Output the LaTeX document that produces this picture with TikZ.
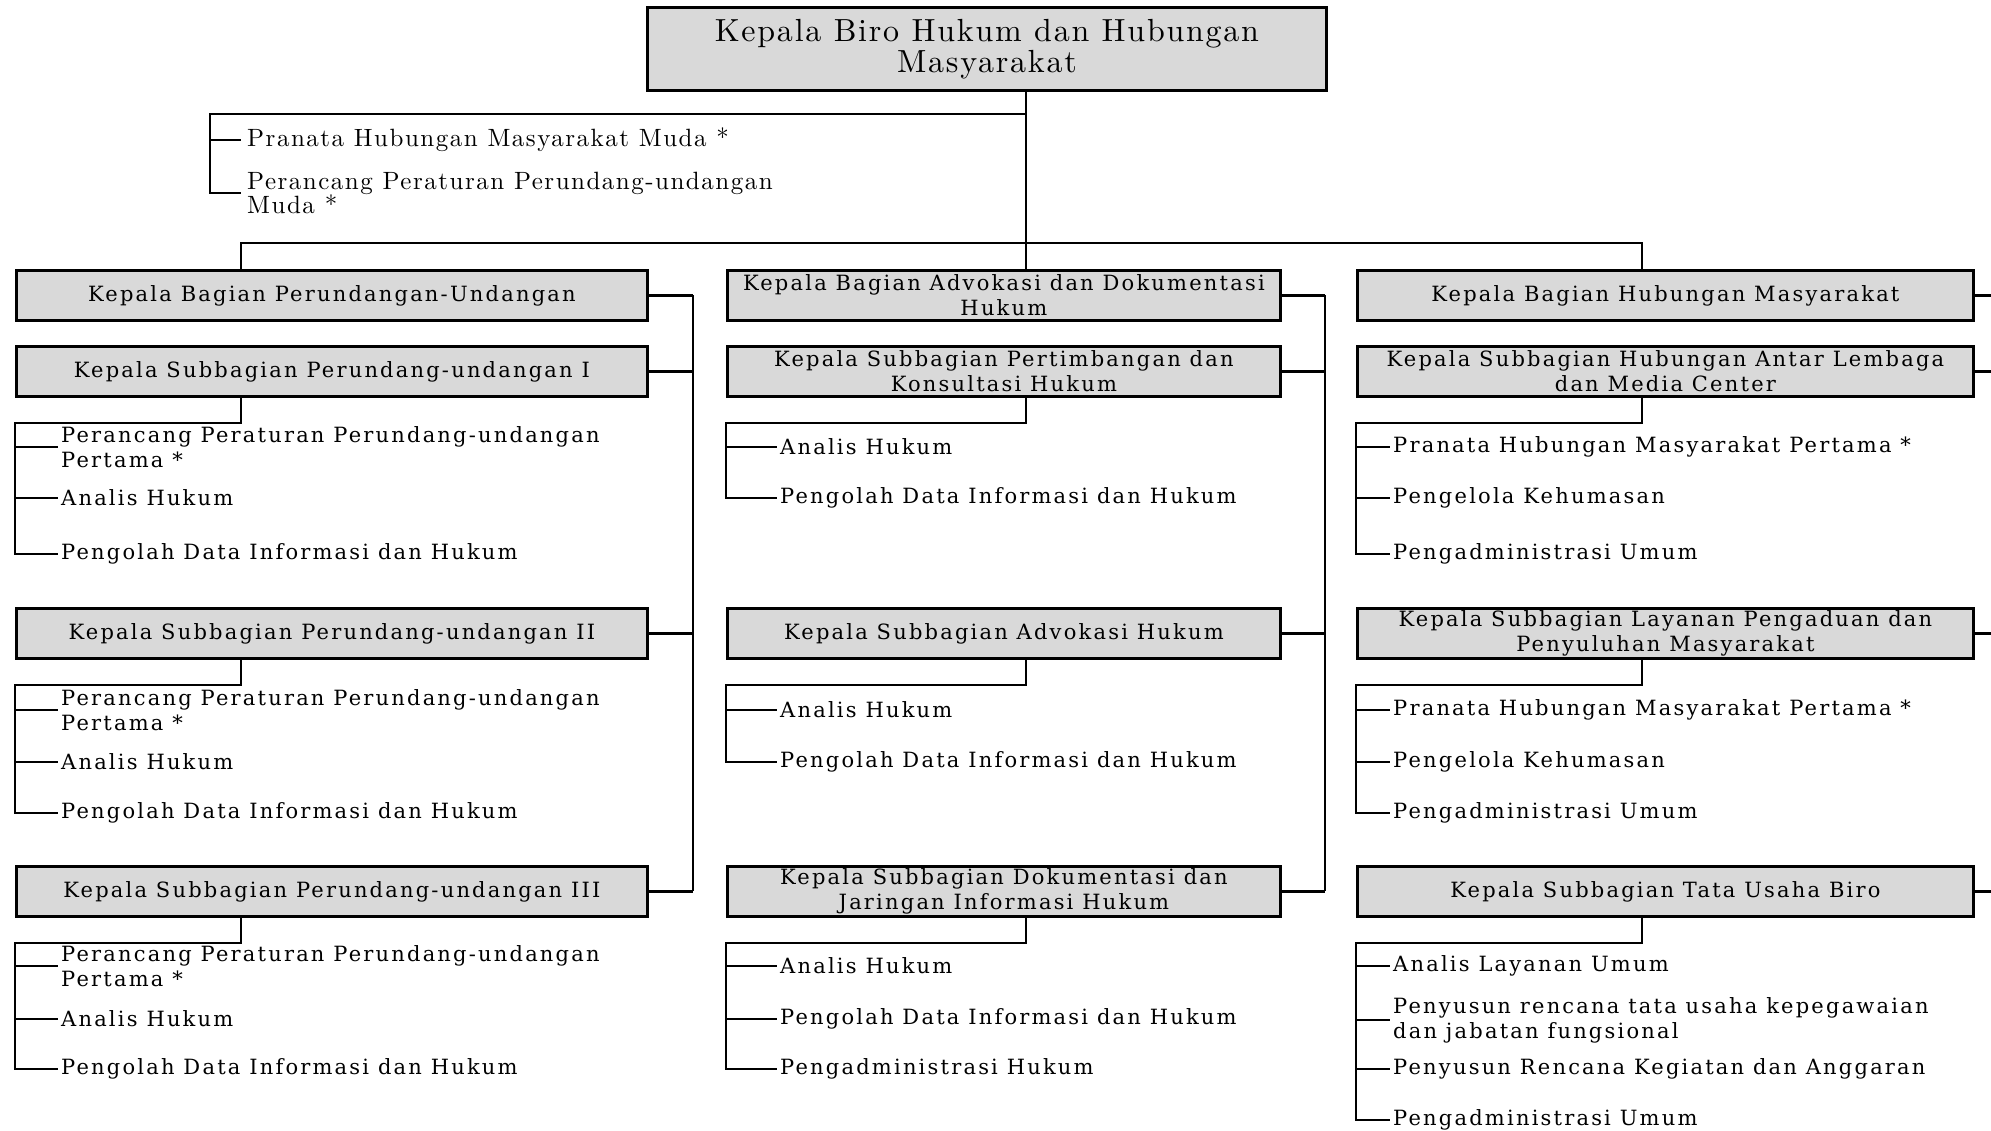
\documentclass[tikz,border=0pt]{standalone}
\usepackage{fontspec}
\usetikzlibrary{calc}
\newfontfamily\bkfont[LetterSpace=10.5]{DejaVu Serif}
\newfontfamily\lmtitle[LetterSpace=5.5]{lmroman10-regular.otf}
\newfontfamily\lmitem[LetterSpace=6]{lmroman10-regular.otf}
\definecolor{boxgray}{HTML}{D9D9D9}
\begin{document}
\begin{tikzpicture}[x=1pt,y=-1pt,
  conn/.style={line width=2.5pt},
  unitbox/.style={draw, line width=2.8pt, fill=boxgray, inner sep=0pt, align=center,
    anchor=north west, minimum height=50pt, font=\bkfont\fontsize{21}{25}\selectfont},
  colL/.style={unitbox, minimum width=631pt},
  colM/.style={unitbox, minimum width=553pt},
  colR/.style={unitbox, minimum width=616pt},
  item/.style={anchor=west, inner xsep=3pt, inner ysep=0pt, align=left,
    font=\bkfont\fontsize{21}{25}\selectfont},
  topitem/.style={anchor=west, inner xsep=6pt, inner ysep=0pt, align=left,
    font=\lmitem\fontsize{25}{24}\selectfont}
]
\useasboundingbox (0,0) rectangle (1991,1131);

% head
\node[draw, line width=2.8pt, fill=boxgray, inner sep=0pt, anchor=north west,
  minimum width=679pt, minimum height=83pt, align=center,
  font=\lmtitle\fontsize{32}{31}\selectfont] (top) at (646,6)
  {Kepala Biro Hukum dan Hubungan\\Masyarakat};

\node[topitem] (tP) at (241,140) {Pranata Hubungan Masyarakat Muda *};
\node[topitem] (tM) at (241,193) {Perancang Peraturan Perundang-undangan\\Muda *};

% junction coordinates
\coordinate (j1) at (1026,114);
\coordinate (j0) at (1026,243);
\coordinate (br0) at (210,114);
\coordinate (xL) at (241,0);
\coordinate (xM) at (1026,0);
\coordinate (xR) at (1642,0);
\coordinate (vL) at (693,0);
\coordinate (vM) at (1325,0);
\coordinate (vR) at (1991,0);

% left column
\node[colL] (bL) at (15,269) {Kepala Bagian Perundangan-Undangan};
\node[colL] (sL1) at (15,345) {Kepala Subbagian Perundang-undangan I};
\node[colL] (sL2) at (15,607) {Kepala Subbagian Perundang-undangan II};
\node[colL] (sL3) at (15,865) {Kepala Subbagian Perundang-undangan III};

\node[item] (lP1) at (58,447) {Perancang Peraturan Perundang-undangan\\Pertama *};
\node[item] (lA1) at (58,498) {Analis Hukum};
\node[item] (lG1) at (58,554) {Pengolah Data Informasi dan Hukum};
\node[item] (lP2) at (58,710) {Perancang Peraturan Perundang-undangan\\Pertama *};
\node[item] (lA2) at (58,762) {Analis Hukum};
\node[item] (lG2) at (58,813) {Pengolah Data Informasi dan Hukum};
\node[item] (lP3) at (58,966) {Perancang Peraturan Perundang-undangan\\Pertama *};
\node[item] (lA3) at (58,1019) {Analis Hukum};
\node[item] (lG3) at (58,1069) {Pengolah Data Informasi dan Hukum};

% middle column
\node[colM] (bM) at (726,269) {Kepala Bagian Advokasi dan Dokumentasi\\Hukum};
\node[colM] (sM1) at (726,345) {Kepala Subbagian Pertimbangan dan\\Konsultasi Hukum};
\node[colM] (sM2) at (726,607) {Kepala Subbagian Advokasi Hukum};
\node[colM] (sM3) at (726,865) {Kepala Subbagian Dokumentasi dan\\Jaringan Informasi Hukum};

\node[item] (mA1) at (777,447) {Analis Hukum};
\node[item] (mG1) at (777,498) {Pengolah Data Informasi dan Hukum};
\node[item] (mA2) at (777,710) {Analis Hukum};
\node[item] (mG2) at (777,762) {Pengolah Data Informasi dan Hukum};
\node[item] (mA3) at (777,966) {Analis Hukum};
\node[item] (mG3) at (777,1019) {Pengolah Data Informasi dan Hukum};
\node[item] (mH3) at (777,1069) {Pengadministrasi Hukum};

% right column
\node[colR] (bR) at (1356,269) {Kepala Bagian Hubungan Masyarakat};
\node[colR] (sR1) at (1356,345) {Kepala Subbagian Hubungan Antar Lembaga\\dan Media Center};
\node[colR] (sR2) at (1356,607) {Kepala Subbagian Layanan Pengaduan dan\\Penyuluhan Masyarakat};
\node[colR] (sR3) at (1356,865) {Kepala Subbagian Tata Usaha Biro};

\node[item] (rP1) at (1390,447) {Pranata Hubungan Masyarakat Pertama *};
\node[item] (rK1) at (1390,498) {Pengelola Kehumasan};
\node[item] (rU1) at (1390,554) {Pengadministrasi Umum};
\node[item] (rP2) at (1390,710) {Pranata Hubungan Masyarakat Pertama *};
\node[item] (rK2) at (1390,762) {Pengelola Kehumasan};
\node[item] (rU2) at (1390,813) {Pengadministrasi Umum};
\node[item] (rL3) at (1390,966) {Analis Layanan Umum};
\node[item] (rS3) at (1390,1020) {Penyusun rencana tata usaha kepegawaian\\dan jabatan fungsional};
\node[item] (rR3) at (1390,1069) {Penyusun Rencana Kegiatan dan Anggaran};
\node[item] (rU3) at (1390,1120) {Pengadministrasi Umum};

% trunk
\draw[conn] (top.south -| j0) -- (j0);
\draw[conn] (j1) -- (br0) |- (tM.west);
\draw[conn] (tP.west -| br0) -- (tP.west);
\draw[conn] (bL.north -| xL) |- (j0) -| (bR.north -| xR);
\draw[conn] (j0) -- (bM.north -| j0);

% column connectors
\foreach \b/\v in {bL/vL, sL1/vL, sL2/vL, sL3/vL, bM/vM, sM1/vM, sM2/vM, sM3/vM, bR/vR, sR1/vR, sR2/vR, sR3/vR}
  \draw[conn] (\b.east) -- (\b.east -| \v);
\draw[conn] (bL.east -| vL) -- (sL3.east -| vL);
\draw[conn] (bM.east -| vM) -- (sM3.east -| vM);

% child brackets
\foreach \s/\x/\last in {sL1/xL/lG1, sL2/xL/lG2, sL3/xL/lG3, sM1/xM/mG1, sM2/xM/mG2, sM3/xM/mH3, sR1/xR/rU1, sR2/xR/rU2, sR3/xR/rU3}
  \draw[conn] (\s.south -| \x) |- ($(\s.south west)+(0,25)$) |- (\last.west);
\foreach \s/\c in {sL1/lP1, sL1/lA1, sL2/lP2, sL2/lA2, sL3/lP3, sL3/lA3, sM2/mA2, sM1/mA1, sM3/mA3, sM3/mG3, sR1/rP1, sR1/rK1, sR2/rP2, sR2/rK2, sR3/rL3, sR3/rS3, sR3/rR3}
  \draw[conn] (\c.west -| \s.west) -- (\c.west);
\end{tikzpicture}
\end{document}
